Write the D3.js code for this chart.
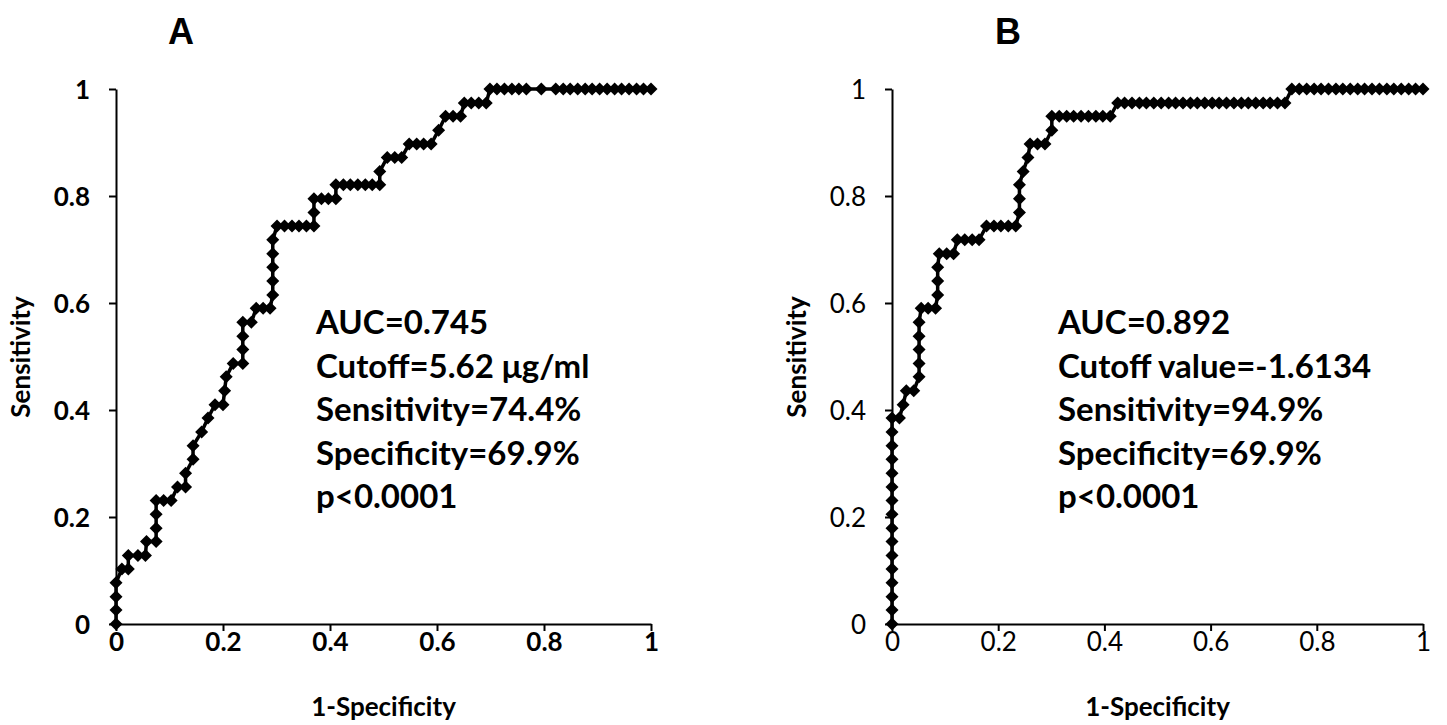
<!DOCTYPE html>
<html>
<head>
<meta charset="utf-8">
<script src="https://cdn.jsdelivr.net/npm/d3@7"></script>
<style>
  body { margin: 0; background: #fff; }
  svg { display: block; }
</style>
</head>
<body>
<script>
/* ROC data: 1-specificity (x) and sensitivity (y) */
var ticks = [0, 0.2, 0.4, 0.6, 0.8, 1];
var tickLabels = ["0", "0.2", "0.4", "0.6", "0.8", "1"];

var fprA = [0, 0, 0, 0, .011, .023, .023, .041, .055, .057, .075, .075, .075,
  .075, .089, .103, .115, .130, .130, .144, .144, .160, .172, .185, .200, .203,
  .206, .219, .237, .237, .237, .237, .253, .262, .275, .288,
  .293, .293, .293, .293, .293, .301, .315, .329, .342, .356, .370, .370, .370,
  .384, .397, .411, .411, .425, .438, .452, .466, .479, .493, .493,
  .507, .521, .534, .548, .562, .575, .589, .603, .616, .630, .644,
  .651, .664, .678, .692, .699, .712, .726, .740, .753, .767, .795,
  .822, .836, .849, .863, .877, .890, .904, .918, .932, .945, .959, .973, .986, 1];
var tprA = [0, .026, .051, .077, .103, .103, .128, .128, .128, .154, .154, .179, .205,
  .231, .231, .231, .256, .256, .282, .308, .333, .359, .385, .410, .410, .436,
  .462, .487, .487, .513, .538, .564, .564, .590, .590, .590,
  .615, .641, .667, .692, .718, .744, .744, .744, .744, .744, .744, .769, .795,
  .795, .795, .795, .821, .821, .821, .821, .821, .821, .821, .846,
  .872, .872, .872, .897, .897, .897, .897, .923, .949, .949, .949,
  .974, .974, .974, .974, 1, 1, 1, 1, 1, 1, 1,
  1, 1, 1, 1, 1, 1, 1, 1, 1, 1, 1, 1, 1, 1];

var fprB = [0, 0, 0, 0, 0, 0, 0, 0, 0, 0, 0, 0, 0, 0, 0, 0,
  .014, .021, .027, .041, .051, .051, .051, .051, .051, .055, .068, .082,
  .086, .086, .086, .089, .103, .116, .123, .137, .151, .164,
  .178, .192, .205, .219, .233, .240, .240, .240, .247, .256, .260, .274, .288,
  .301, .301, .315, .329, .342, .356, .370, .384, .397, .411,
  .425, .438, .452, .466, .479, .493, .507, .521, .534, .548, .562, .575,
  .589, .603, .616, .630, .644, .658, .671, .685, .699, .712, .726, .740,
  .753, .767, .781, .795, .808, .822, .836, .849, .863, .877, .890, .904,
  .918, .932, .945, .959, .973, .986, 1];
var tprB = [0, .026, .051, .077, .103, .128, .154, .179, .205, .231, .256, .282, .308, .333, .359, .385,
  .385, .410, .436, .436, .462, .487, .513, .538, .564, .590, .590, .590,
  .615, .641, .667, .692, .692, .692, .718, .718, .718, .718,
  .744, .744, .744, .744, .744, .769, .795, .821, .846, .872, .897, .897, .897,
  .923, .949, .949, .949, .949, .949, .949, .949, .949, .949,
  .974, .974, .974, .974, .974, .974, .974, .974, .974, .974, .974, .974,
  .974, .974, .974, .974, .974, .974, .974, .974, .974, .974, .974, .974,
  1, 1, 1, 1, 1, 1, 1, 1, 1, 1, 1, 1,
  1, 1, 1, 1, 1, 1, 1];

var notesA = ["AUC=0.745", "Cutoff=5.62 \u03bcg/ml", "Sensitivity=74.4%", "Specificity=69.9%", "p<0.0001"];
var notesB = ["AUC=0.892", "Cutoff value=-1.6134", "Sensitivity=94.9%", "Specificity=69.9%", "p<0.0001"];

var W = 1447, H = 725;
var svg = d3.select("body").append("svg")
    .attr("width", W)
    .attr("height", H);

var font = "Lato, 'Open Sans', sans-serif";

function panel(opt) {
  var x = d3.scaleLinear().domain([0, 1]).range([opt.x0, opt.x1]);
  var y = d3.scaleLinear().domain([0, 1]).range([624, 89]);
  var g = svg.append("g");

  var xAxis = d3.axisBottom(x).tickValues(ticks)
      .tickFormat(function (d, i) { return tickLabels[i]; })
      .tickSize(7).tickSizeOuter(0).tickPadding(2);
  var yAxis = d3.axisLeft(y).tickValues(ticks)
      .tickFormat(function (d, i) { return tickLabels[i]; })
      .tickSize(7).tickSizeOuter(0).tickPadding(19);

  var gx = g.append("g").attr("transform", "translate(0,624)").call(xAxis);
  var gy = g.append("g").attr("transform", "translate(" + opt.x0 + ",0)").call(yAxis);
  [gx, gy].forEach(function (a) {
    a.selectAll("path, line").attr("stroke", "#000").attr("stroke-width", 2);
    a.selectAll("text")
      .style("font-family", font)
      .style("font-size", "26px")
      .style("font-weight", opt.tickBold ? 700 : 400)
      .attr("fill", "#000");
  });
  gx.selectAll("text").attr("dy", "0.71em");
  gy.selectAll("text").attr("dy", "0.35em");

  /* curve */
  var pts = opt.fpr.map(function (d, i) { return [d, opt.tpr[i]]; });
  g.append("path")
    .datum(pts)
    .attr("fill", "none")
    .attr("stroke", "#000")
    .attr("stroke-width", 3.5)
    .attr("d", d3.line().x(function (d) { return x(d[0]); }).y(function (d) { return y(d[1]); }));

  var s = 6.5;
  g.selectAll("path.mk")
    .data(pts)
    .enter().append("path")
      .attr("class", "mk")
      .attr("d", "M0," + (-s) + "L" + s + ",0L0," + s + "L" + (-s) + ",0Z")
      .attr("transform", function (d) { return "translate(" + x(d[0]) + "," + y(d[1]) + ")"; })
      .attr("fill", "#000");

  /* titles */
  g.append("text")
    .attr("x", opt.titleX).attr("y", 44)
    .attr("text-anchor", "middle")
    .style("font-family", "'Liberation Sans', Arial, sans-serif")
    .style("font-size", "36px").style("font-weight", 700)
    .text(opt.title);

  g.append("text")
    .attr("x", (opt.x0 + opt.x1) / 2).attr("y", 716)
    .attr("text-anchor", "middle")
    .style("font-family", font)
    .style("font-size", "26px").style("font-weight", 700)
    .text("1-Specificity");

  g.append("text")
    .attr("transform", "translate(" + (opt.x0 - 86) + ",357) rotate(-90)")
    .attr("text-anchor", "middle")
    .style("font-family", font)
    .style("font-size", "26px").style("font-weight", 700)
    .text("Sensitivity");

  g.selectAll("text.note")
    .data(opt.notes)
    .enter().append("text")
      .attr("class", "note")
      .attr("x", opt.noteX)
      .attr("y", function (d, i) { return 334 + i * 43.5; })
      .style("font-family", font)
      .style("font-size", "33px").style("font-weight", 700)
      .text(function (d) { return d; });
}

panel({ x0: 116, x1: 651, fpr: fprA, tpr: tprA, notes: notesA, noteX: 316,
        title: "A", titleX: 181, tickBold: true });
panel({ x0: 892, x1: 1423, fpr: fprB, tpr: tprB, notes: notesB, noteX: 1058,
        title: "B", titleX: 1008, tickBold: false });
</script>
</body>
</html>
